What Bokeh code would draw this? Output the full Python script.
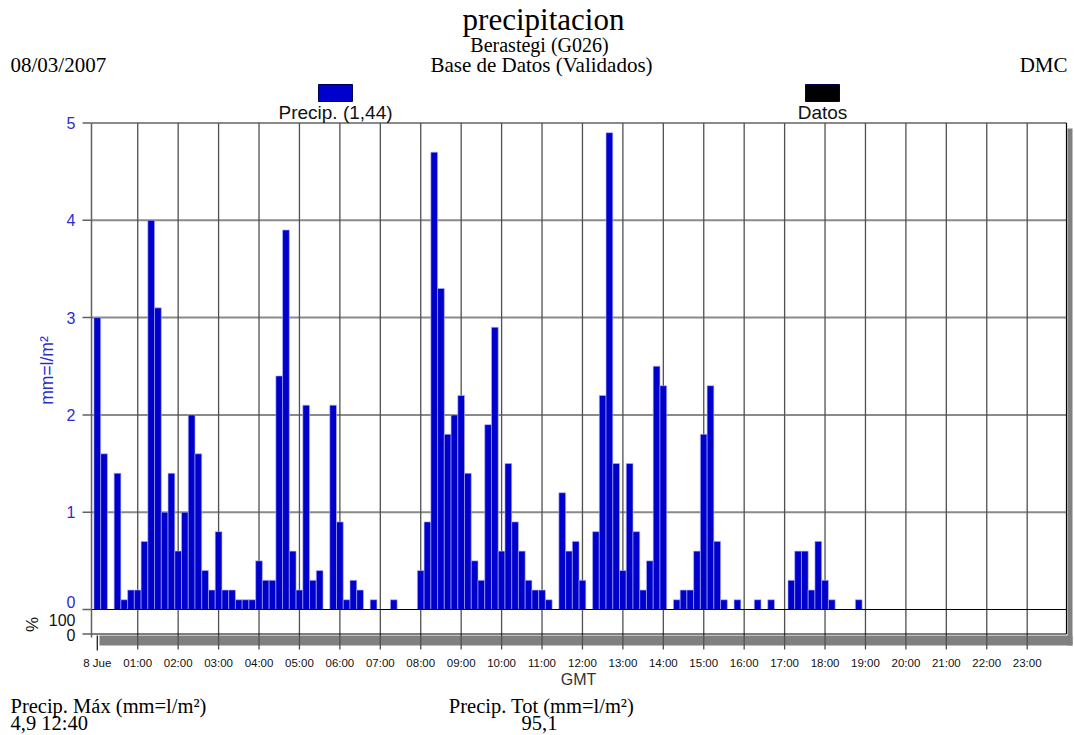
import math
from bokeh.plotting import figure
from bokeh.models import ColumnDataSource, Range1d
from bokeh.core.properties import value
from bokeh.embed import file_html
from bokeh.resources import INLINE

# ---------------- data (10-minute precipitation, mm = l/m2) ----------------
precip = [
    3.0, 1.6, 0.0, 1.4, 0.1, 0.2, 0.2, 0.7, 4.0, 3.1, 1.0, 1.4,   # 00:00-01:50
    0.6, 1.0, 2.0, 1.6, 0.4, 0.2, 0.8, 0.2, 0.2, 0.1, 0.1, 0.1,   # 02:00-03:50
    0.5, 0.3, 0.3, 2.4, 3.9, 0.6, 0.2, 2.1, 0.3, 0.4, 0.0, 2.1,   # 04:00-05:50
    0.9, 0.1, 0.3, 0.2, 0.0, 0.1, 0.0, 0.0, 0.1, 0.0, 0.0, 0.0,   # 06:00-07:50
    0.4, 0.9, 4.7, 3.3, 1.8, 2.0, 2.2, 1.4, 0.5, 0.3, 1.9, 2.9,   # 08:00-09:50
    0.6, 1.5, 0.9, 0.6, 0.3, 0.2, 0.2, 0.1, 0.0, 1.2, 0.6, 0.7,   # 10:00-11:50
    0.3, 0.0, 0.8, 2.2, 4.9, 1.5, 0.4, 1.5, 0.8, 0.2, 0.5, 2.5,   # 12:00-13:50
    2.3, 0.0, 0.1, 0.2, 0.2, 0.6, 1.8, 2.3, 0.7, 0.1, 0.0, 0.1,   # 14:00-15:50
    0.0, 0.0, 0.1, 0.0, 0.1, 0.0, 0.0, 0.3, 0.6, 0.6, 0.2, 0.7,   # 16:00-17:50
    0.3, 0.1, 0.0, 0.0, 0.0, 0.1, 0.0, 0.0, 0.0, 0.0, 0.0, 0.0,   # 18:00-19:50
    0.0, 0.0, 0.0, 0.0, 0.0, 0.0, 0.0, 0.0, 0.0, 0.0, 0.0, 0.0,   # 20:00-21:50
    0.0, 0.0, 0.0, 0.0, 0.0, 0.0, 0.0, 0.0, 0.0, 0.0, 0.0, 0.0,   # 22:00-23:50
]
step_minutes = 10
times_h = [i * step_minutes / 60.0 for i in range(len(precip))]

hour_ticks = list(range(24))
hour_labels = ["8 Jue", "01:00", "02:00", "03:00", "04:00", "05:00", "06:00", "07:00",
               "08:00", "09:00", "10:00", "11:00", "12:00", "13:00", "14:00", "15:00",
               "16:00", "17:00", "18:00", "19:00", "20:00", "21:00", "22:00", "23:00"]
y_ticks = [0, 1, 2, 3, 4, 5]
y_labels = ["0", "1", "2", "3", "4", "5"]

title_text = "precipitacion"
station_text = "Berastegi (G026)"
date_text = "08/03/2007"
db_text = "Base de Datos (Validados)"
org_text = "DMC"
legend_names = ["Precip. (1,44)", "Datos"]
legend_colors = ["#0000CC", "#000000"]
max_label = "Precip. Máx (mm=l/m²)"
max_value = "4,9 12:40"
tot_label = "Precip. Tot (mm=l/m²)"
tot_value = "95,1"

# ---------------- layout geometry (reference pixels) ----------------
W, H = 1074, 735
OFF = 0
X0, KX = 96.8, 40.43     # px of 00:00, px per hour
Y0, KY = 609.0, 97.3     # px of 0 mm, px per mm


def hx(rx):
    return (rx - X0) / KX


def vy(ry):
    return (Y0 - ry) / KY


p = figure(width=W, height=H,
           x_range=Range1d(hx(OFF), hx(OFF + W)),
           y_range=Range1d(vy(OFF + H), vy(OFF)),
           x_axis_type=None, y_axis_type=None,
           toolbar_location=None, output_backend="svg",
           min_border=0, title=None)
p.outline_line_color = None
p.background_fill_color = "white"
p.border_fill_color = "white"

SANS = value("Liberation Sans")
SERIF = value("Liberation Serif")

LEFT, RIGHT = 91.0, 1066.0
PCT0 = 633.5

# shadow / availability band
p.quad(left=[hx(99)], right=[hx(1072)], top=[vy(635)], bottom=[vy(645)],
       fill_color="#808080", line_color=None)
p.quad(left=[hx(1067)], right=[hx(1072)], top=[vy(128)], bottom=[vy(645)],
       fill_color="#808080", line_color=None)
p.quad(left=[hx(LEFT)], right=[hx(RIGHT)], top=[vy(122)], bottom=[vy(PCT0)],
       fill_color="white", line_color=None)

# horizontal grid
p.segment(x0=[hx(LEFT)] * 5, x1=[hx(RIGHT)] * 5, y0=y_ticks[1:], y1=y_ticks[1:],
          line_color="#8a8a8a", line_width=2)
# vertical grid (hours)
vx = hour_ticks[1:]
p.segment(x0=vx, x1=vx, y0=[5] * len(vx), y1=[vy(649)] * len(vx),
          line_color="#505050", line_width=1.3)
p.segment(x0=[0], x1=[0], y0=[vy(635)], y1=[vy(650)], line_color="#202020", line_width=1.3)

# bars
nz = [(t, v) for t, v in zip(times_h, precip) if v > 0]
src = ColumnDataSource(dict(x=[a for a, b in nz], top=[b for a, b in nz]))
p.vbar(x="x", top="top", bottom=0, width=step_minutes / 60.0, source=src,
       fill_color="#0000CC", line_color="#b4b4f0", line_width=0.6)

# frame lines
p.segment(x0=[hx(LEFT), hx(LEFT)], x1=[hx(RIGHT), hx(RIGHT)], y0=[0, vy(PCT0)], y1=[0, vy(PCT0)],
          line_color="black", line_width=1.2)
p.segment(x0=[hx(RIGHT)], x1=[hx(RIGHT)], y0=[5], y1=[vy(PCT0)], line_color="black", line_width=1.2)
p.segment(x0=[hx(LEFT)], x1=[hx(LEFT)], y0=[5], y1=[vy(637)], line_color="#606060", line_width=1.5)
# left ticks
tk = y_ticks + [vy(PCT0)]
p.segment(x0=[hx(82)] * len(tk), x1=[hx(LEFT)] * len(tk), y0=tk, y1=tk,
          line_color="#606060", line_width=1.5)

# y tick labels (blue)
ylab_y = [vy(601) if v == 0 else v for v in y_ticks]
p.text(x=[hx(75)] * len(y_ticks), y=ylab_y, text=y_labels, text_align="right",
       text_baseline="middle", text_font=SANS, text_font_size="16px", text_color="#2c2cd0")
p.text(x=[hx(46)], y=[vy(370)], text=["mm=l/m²"], angle=math.pi / 2, text_align="center",
       text_baseline="middle", text_font=SANS, text_font_size="17.5px", text_color="#2c2cd0")
# % panel labels
p.text(x=[hx(75), hx(75)], y=[vy(619), vy(634)], text=["100", "0"], text_align="right",
       text_baseline="middle", text_font=SANS, text_font_size="16px", text_color="#111111")
p.text(x=[hx(32)], y=[vy(624)], text=["%"], angle=math.pi / 2, text_align="center",
       text_baseline="middle", text_font=SANS, text_font_size="17px", text_color="#111111")

# x tick labels
p.text(x=hour_ticks, y=[vy(662)] * len(hour_ticks), text=hour_labels, text_align="center",
       text_baseline="middle", text_font=SANS, text_font_size="11.5px", text_color="#111111")
p.text(x=[hx(578)], y=[vy(679)], text=["GMT"], text_align="center", text_baseline="middle",
       text_font=SANS, text_font_size="16px", text_color="#333333")

# header
p.text(x=[hx(543)], y=[vy(19)], text=[title_text], text_align="center", text_baseline="middle",
       text_font=SERIF, text_font_size="31px", text_color="black")
p.text(x=[hx(539)], y=[vy(44)], text=[station_text], text_align="center", text_baseline="middle",
       text_font=SERIF, text_font_size="20px", text_color="black")
p.text(x=[hx(541)], y=[vy(64)], text=[db_text], text_align="center", text_baseline="middle",
       text_font=SERIF, text_font_size="21px", text_color="black")
p.text(x=[hx(10)], y=[vy(64)], text=[date_text], text_align="left", text_baseline="middle",
       text_font=SERIF, text_font_size="21px", text_color="black")
p.text(x=[hx(1067)], y=[vy(64)], text=[org_text], text_align="right", text_baseline="middle",
       text_font=SERIF, text_font_size="21px", text_color="black")

# legend
leg_cx = [335, 822]
p.quad(left=[hx(c - 17) for c in leg_cx], right=[hx(c + 17) for c in leg_cx],
       top=[vy(84)] * 2, bottom=[vy(101)] * 2, fill_color=legend_colors, line_color="#000050",
       line_width=1)
p.text(x=[hx(c) for c in leg_cx], y=[vy(112)] * 2, text=legend_names, text_align="center",
       text_baseline="middle", text_font=SANS, text_font_size="19px", text_color="#111111")

# footer
p.text(x=[hx(10), hx(10)], y=[vy(705), vy(722)], text=[max_label, max_value], text_align="left",
       text_baseline="middle", text_font=SERIF, text_font_size="20.5px", text_color="black")
p.text(x=[hx(541), hx(539)], y=[vy(705), vy(722)], text=[tot_label, tot_value], text_align="center",
       text_baseline="middle", text_font=SERIF, text_font_size="20.5px", text_color="black")

open("out.html", "w").write(file_html(p, INLINE))
